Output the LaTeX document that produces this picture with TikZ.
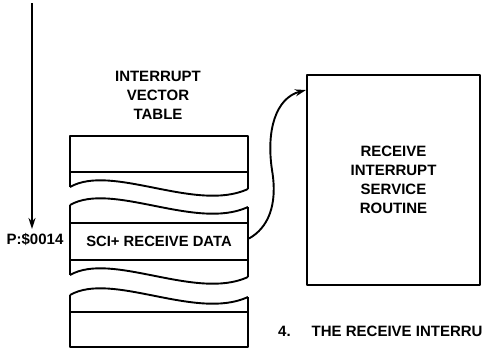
\documentclass[tikz,border=0pt]{standalone}
\usepackage{fontspec}
\setmainfont{Liberation Sans}
\usetikzlibrary{arrows.meta}
\begin{document}
\begin{tikzpicture}[x=1pt,y=-1pt,
  line join=round,
  tline/.style={line width=1.9pt},
  lbl/.style={font=\fontsize{15}{19}\selectfont\bfseries, inner sep=0pt, align=center},
  cellbox/.style={draw, line width=1.9pt, minimum width=178pt, minimum height=37pt, inner sep=0pt, font=\fontsize{14.8}{19}\selectfont\bfseries},
  isrbox/.style={draw, line width=1.9pt, minimum width=173pt, minimum height=210pt, inner sep=0pt, align=center, font=\fontsize{15}{19}\selectfont\bfseries},
  tip/.style={-{Stealth[length=11pt,width=7pt]}}
]
\useasboundingbox (0,0) rectangle (482,349);
\begin{scope}
\clip (0,0) rectangle (482,349);

% title
\node[lbl] (title) at (158,95) {INTERRUPT\\VECTOR\\TABLE};

% top segment
\draw[tline] (70,187) -- (70,136) -- (248,136) -- (248,189);
\draw[tline] (70,172) -- (248,172);
\draw[tline] (70,187) .. controls (112,163) and (196,213) .. (248,189);

% middle segment
\node[cellbox] (sci) at (159,241.5) {SCI+ RECEIVE DATA};
\draw[tline] (70,205) .. controls (112,181) and (196,231) .. (248,207);
\draw[tline] (70,205) -- (70,275);
\draw[tline] (248,207) -- (248,277);
\draw[tline] (70,275) .. controls (112,251) and (196,301) .. (248,277);

% bottom segment
\draw[tline] (70,295) .. controls (112,271) and (196,321) .. (248,297);
\draw[tline] (70,295) -- (70,347) -- (248,347) -- (248,297);
\draw[tline] (70,312) -- (248,312);

% address pointer
\coordinate (ptop) at (32,3);
\node[lbl, anchor=center] (plbl) at (35,239.5) {P:\$0014};
\draw[line width=2.6pt, tip] (ptop) -- (32,229);

% service routine
\node[isrbox] (isr) at (393.5,180) {RECEIVE\\INTERRUPT\\SERVICE\\ROUTINE};
\coordinate (isrin) at (306,90);
\draw[line width=1.9pt, tip] (sci.east) ++(0,-3) .. controls (268,228) and (278,205) .. (272,170) .. controls (266,130) and (276,98) .. (isrin);

% caption
\node[lbl, anchor=base west] (cap) at (278,336) {4.\hspace{21pt}THE RECEIVE INTERRUPT};
\end{scope}
\end{tikzpicture}
\end{document}
